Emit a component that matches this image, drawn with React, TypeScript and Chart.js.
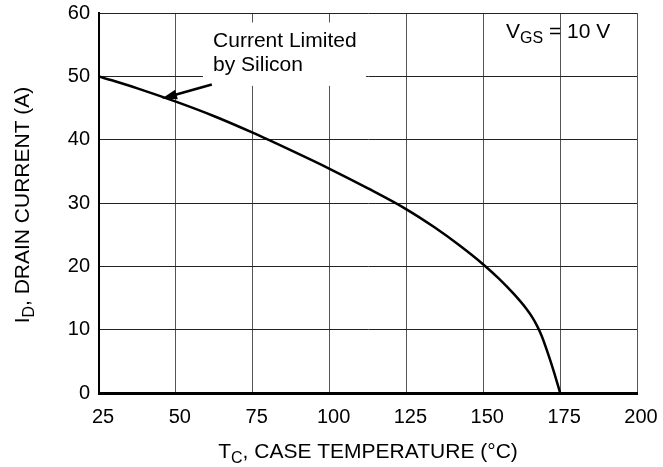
import { useEffect, useRef } from "react";
import { Chart, registerables } from "chart.js";

Chart.register(...registerables);

// ---- data ----
const caseTemperature = [25, 37.5, 50, 62.5, 75, 87.5, 100, 112.5, 125, 134, 142, 150, 155, 160, 164, 166, 167.5, 169, 171, 173, 175];
const drainCurrent = [50, 48.1, 46.0, 43.7, 41.1, 38.3, 35.4, 32.3, 29.0, 26.2, 23.4, 20.3, 18.1, 15.6, 13.3, 11.9, 10.6, 9.0, 6.3, 3.3, 0];
const xTickValues = [25, 50, 75, 100, 125, 150, 175, 200];
const yTickValues = [0, 10, 20, 30, 40, 50, 60];

const FONT = "'Liberation Sans', Arial, Helvetica, sans-serif";
const TICK_FS = 20;
const TEXT_FS = 21;

type Part = { t: string; sub?: boolean };

function setFont(ctx: CanvasRenderingContext2D, p: Part) {
  ctx.font = `${p.sub ? Math.round(TEXT_FS * 0.78) : TEXT_FS}px ${FONT}`;
}

function drawRich(ctx: CanvasRenderingContext2D, parts: Part[], x: number, y: number, align: "left" | "center") {
  let w = 0;
  for (const p of parts) {
    setFont(ctx, p);
    w += ctx.measureText(p.t).width;
  }
  let cx = align === "center" ? x - w / 2 : x;
  ctx.textAlign = "left";
  ctx.textBaseline = "alphabetic";
  ctx.fillStyle = "#000";
  for (const p of parts) {
    setFont(ctx, p);
    ctx.fillText(p.t, cx, p.sub ? y + 5 : y);
    cx += ctx.measureText(p.t).width;
  }
}

const annotationPlugin = {
  id: "annotations",
  afterDatasetsDraw(chart: any) {
    const ctx: CanvasRenderingContext2D = chart.ctx;
    const xs = chart.scales.x;
    const ys = chart.scales.y;
    const px = (v: number) => xs.getPixelForValue(v);
    const py = (v: number) => ys.getPixelForValue(v);
    const area = chart.chartArea;
    ctx.save();

    // white box behind the "Current Limited" label
    ctx.fillStyle = "#fff";
    ctx.fillRect(px(58.8), py(58.5), px(111.9) - px(58.8), py(48.5) - py(58.5));

    ctx.font = `${TEXT_FS}px ${FONT}`;
    ctx.fillStyle = "#000";
    ctx.textAlign = "left";
    ctx.textBaseline = "alphabetic";
    ctx.fillText("Current Limited", px(62.1), py(54.7));
    ctx.fillText("by Silicon", px(62.1), py(50.8));

    // arrow
    const x0 = px(61.7), y0 = py(48.7);
    const x1 = px(45.5), y1 = py(46.5);
    const ang = Math.atan2(y1 - y0, x1 - x0);
    const hl = 15, hw = 5;
    ctx.strokeStyle = "#000";
    ctx.lineWidth = 2.5;
    ctx.beginPath();
    ctx.moveTo(x0, y0);
    ctx.lineTo(x1 - Math.cos(ang) * hl * 0.8, y1 - Math.sin(ang) * hl * 0.8);
    ctx.stroke();
    ctx.beginPath();
    ctx.moveTo(x1, y1);
    ctx.lineTo(x1 - Math.cos(ang) * hl + Math.sin(ang) * hw, y1 - Math.sin(ang) * hl - Math.cos(ang) * hw);
    ctx.lineTo(x1 - Math.cos(ang) * hl - Math.sin(ang) * hw, y1 - Math.sin(ang) * hl + Math.cos(ang) * hw);
    ctx.closePath();
    ctx.fill();

    // V_GS = 10 V
    drawRich(ctx, [{ t: "V" }, { t: "GS", sub: true }, { t: " = 10 V" }], px(157.4), py(56.1), "left");

    // axis titles
    drawRich(
      ctx,
      [{ t: "T" }, { t: "C", sub: true }, { t: ", CASE TEMPERATURE (°C)" }],
      (area.left + area.right) / 2,
      458,
      "center"
    );
    ctx.translate(29, (area.top + area.bottom) / 2 + 2);
    ctx.rotate(-Math.PI / 2);
    drawRich(ctx, [{ t: "I" }, { t: "D", sub: true }, { t: ", DRAIN CURRENT (A)" }], 0, 0, "center");
    ctx.restore();
  },
};

export default function App() {
  const ref = useRef<HTMLCanvasElement | null>(null);

  useEffect(() => {
    if (!ref.current) return;
    const chart = new Chart(ref.current, {
      type: "line",
      data: {
        datasets: [
          {
            data: caseTemperature.map((t, i) => ({ x: t, y: drainCurrent[i] })),
            borderColor: "#000",
            borderWidth: 2.5,
            pointRadius: 0,
            fill: false,
            cubicInterpolationMode: "monotone",
          },
        ],
      },
      options: {
        animation: false,
        responsive: false,
        devicePixelRatio: 1,
        layout: { padding: { top: 13, right: 26, left: 0, bottom: 0 } },
        plugins: { legend: { display: false }, tooltip: { enabled: false } },
        scales: {
          x: {
            type: "linear",
            min: 25,
            max: 200,
            afterBuildTicks: (s: any) => {
              s.ticks = xTickValues.map((v) => ({ value: v }));
            },
            afterFit: (s: any) => {
              s.height = 74;
              s.paddingLeft = 0;
              s.paddingRight = 0;
            },
            ticks: {
              color: "#000",
              font: { family: FONT, size: TICK_FS },
              padding: 12,
              labelOffset: 4,
              maxRotation: 0,
              autoSkip: false,
            },
            grid: { color: "#555", lineWidth: 1, drawTicks: false },
            border: { display: true, color: "#000", width: 3 },
          },
          y: {
            type: "linear",
            min: 0,
            max: 60,
            afterBuildTicks: (s: any) => {
              s.ticks = yTickValues.map((v) => ({ value: v }));
            },
            afterFit: (s: any) => {
              s.width = 99;
              s.paddingTop = 0;
              s.paddingBottom = 0;
            },
            ticks: { color: "#000", font: { family: FONT, size: TICK_FS }, padding: 9, autoSkip: false },
            grid: { color: "#222", lineWidth: 1, drawTicks: false },
            border: { display: true, color: "#000", width: 2 },
          },
        },
      },
      plugins: [annotationPlugin],
    } as any);
    return () => chart.destroy();
  }, []);

  return (
    <div style={{ position: "fixed", left: 0, top: 0, width: 663, height: 467, background: "#fff" }}>
      <canvas ref={ref} width={663} height={467} style={{ display: "block" }} />
    </div>
  );
}
